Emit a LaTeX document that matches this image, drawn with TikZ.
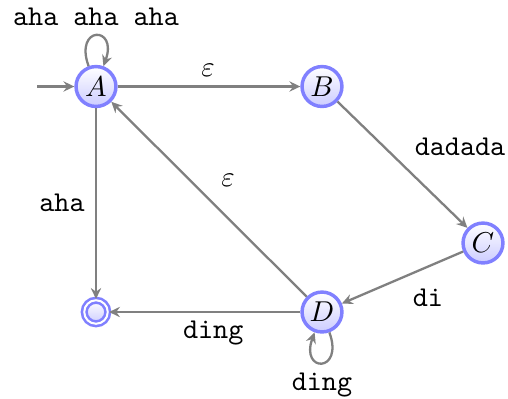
\documentclass[tikz,border=0pt]{standalone}
\usetikzlibrary{arrows.meta}
\begin{document}
\begin{tikzpicture}[x=0.3484pt, y=-0.3484pt,
  state/.style={circle, draw=blue!50, very thick, top color=white, bottom color=blue!20,
    minimum size=13.9pt, inner sep=0pt},
  accept/.style={circle, draw=blue!50, line width=0.9pt, double=white, double distance=0.7pt,
    top color=white, bottom color=blue!20, minimum size=8.2pt, inner sep=0pt},
  trans/.style={draw=gray, thick, -{Stealth[length=3.8pt, width=3.6pt, inset=1.3pt]}},
  lbl/.style={anchor=center, inner sep=0pt, font=\ttfamily}]
  \useasboundingbox (0,0) rectangle (508,398);

  \node[state] (A) at (96,86.5)  {$A$};
  \node[state] (B) at (322,86.5) {$B$};
  \node[state] (C) at (483,243) {$C$};
  \node[state] (D) at (322,312) {$D$};
  \node[accept] (F) at (96,312) {};
  \coordinate (start) at (37,86.5);

  \draw[trans] (start) -- (A);
  \draw[trans] (A) to[out=110, in=70, looseness=7.5] node[lbl, above, inner sep=3pt] {aha aha aha} (A);
  \draw[trans] (A) -- node[lbl, shift={(-1,-16)}] {$\varepsilon$} (B);
  \draw[trans] (B) -- node[lbl, shift={(57.5,-17.5)}] {dadada} (C);
  \draw[trans] (C) -- node[lbl, shift={(25.5,20.5)}] {di} (D);
  \draw[trans] (D) -- node[lbl, shift={(19,-18.5)}] {$\varepsilon$} (A);
  \draw[trans] (D) -- node[lbl, shift={(8.5,21)}] {ding} (F);
  \draw[trans] (A) -- node[lbl, shift={(-34,-1)}] {aha} (F);
  \draw[trans] (D) to[out=-70, in=-110, looseness=7.5] node[lbl, below, inner sep=3pt] {ding} (D);
\end{tikzpicture}
\end{document}
